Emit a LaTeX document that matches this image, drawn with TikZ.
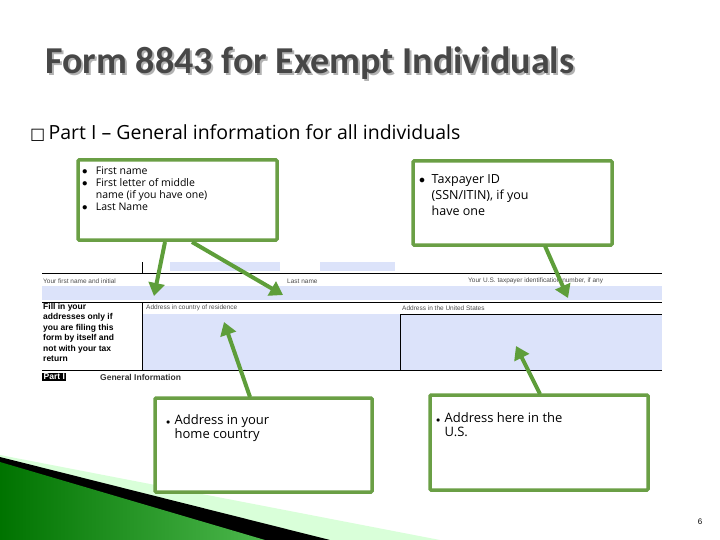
\documentclass[tikz,border=0pt]{standalone}
\usepackage{fontspec}
\setmainfont{Carlito}
\newfontfamily\sub{Open Sans}
\newfontfamily\frm{Liberation Sans}
\newfontfamily\djvfont{DejaVu Sans}
\usetikzlibrary{arrows.meta}
\definecolor{gbox}{HTML}{6A9F45}
\definecolor{garr}{HTML}{5E9E3A}
\definecolor{fblue}{HTML}{DCE3FA}
\tikzset{
  callout/.style={draw=gbox,line width=3.5pt,fill=white,rounded corners=1pt},
  arr/.style={draw=garr,line width=4pt,-{Triangle[length=13pt,width=16pt]}},
  flab/.style={font=\frm\fontsize{6.5}{7}\selectfont,text=black!70,anchor=west,inner sep=0},
  ctext/.style={font=\sub\fontsize{13}{14}\selectfont,anchor=north west,align=left,inner sep=0}
}
\begin{document}
\begin{tikzpicture}[x=1pt,y=-1pt]
\useasboundingbox (0,0) rectangle (720,540);
% decoration
\fill[green!15!white] (0,455) -- (440,540) -- (0,540) -- cycle;
\fill[black] (0,457) -- (330,540) -- (0,540) -- cycle;
\shade[left color=green!45!black,right color=green!60!black!70!white] (0,462) -- (265,540) -- (0,540) -- cycle;
% title
\node[anchor=west,font=\bfseries\fontsize{38}{40}\selectfont,text=black!30] at (44,65) (ts) {Form 8843 for Exempt Individuals};
\node[anchor=west,font=\bfseries\fontsize{38}{40}\selectfont,text=black!72] at (42,63) (title) {Form 8843 for Exempt Individuals};
\node[anchor=west,font=\sub\fontsize{19.5}{22}\selectfont,inner sep=0] at (30,133) (sub) {{\djvfont\fontsize{16}{16}\selectfont □}\,Part I – General information for all individuals};
% form
\fill[fblue] (42,286) rectangle (662,300);
\fill[fblue] (142,314) rectangle (400,370);
\fill[fblue] (401,314) rectangle (662,370);
\fill[fblue] (170,262) rectangle (280,271);
\fill[fblue] (320,262) rectangle (395,271);
\draw[line width=0.8pt] (42,273) -- (662,273);
\draw[line width=0.8pt] (42,302) -- (662,302);
\draw[line width=0.8pt] (42,370) -- (662,370);
\draw[line width=0.5pt] (142,302) -- (142,370);
\draw[line width=0.5pt] (400,314) -- (662,314) (400,314) -- (400,370);
\draw[line width=0.5pt] (142,262) -- (142,273);
\node[flab] at (43,281) (l1) {Your first name and initial};
\node[flab] at (287,281) (l2) {Last name};
\node[flab] at (468,281) (l3) {Your U.S. taxpayer identification number, if any};
\node[flab] at (146,308) (l4) {Address in country of residence};
\node[flab] at (402,308) (l5) {Address in the United States};
\node[anchor=north west,font=\frm\bfseries\fontsize{8.5}{10.5}\selectfont,align=left,inner sep=0] at (43,303) (fill) {Fill in your\\addresses only if\\you are filing this\\form by itself and\\not with your tax\\return};
\node[fill=black,text=white,font=\frm\bfseries\fontsize{8.5}{9}\selectfont,inner sep=1.5pt,anchor=west] at (42,377) (p1) {Part I};
\node[anchor=west,font=\frm\bfseries\fontsize{8.5}{9}\selectfont,inner sep=0,text=black!80] at (100,377) (gi) {General Information};
% callouts
\draw[callout] (78,160) rectangle (277,240);
\coordinate (b1a) at (165,242); \coordinate (b1b) at (192,242);
\node[anchor=north west,font=\sub\fontsize{10.5}{12}\selectfont,align=left,inner sep=0] at (82,167) (t1) {$\bullet$\ \ \ First name\\$\bullet$\ \ \ First letter of middle\\\phantom{$\bullet$\ \ \ }name (if you have one)\\$\bullet$\ \ \ Last Name};
\draw[callout] (413,161) rectangle (612,245);
\node[ctext,font=\sub\fontsize{12.5}{16}\selectfont] at (419,174) (t2) {$\bullet$\ \ Taxpayer ID\\\phantom{$\bullet$\ \ }(SSN/ITIN), if you\\\phantom{$\bullet$\ \ }have one};
\draw[callout] (155,398) rectangle (372,492);
\node[ctext] at (166,414) (t3) {\fontsize{8}{8}\selectfont$\bullet$\ \ \fontsize{13}{14}\selectfont Address in your\\\phantom{\fontsize{8}{8}\selectfont$\bullet$\ \ }home country};
\draw[callout] (430,395) rectangle (648,490);
\node[ctext] at (436,412) (t4) {\fontsize{8}{8}\selectfont$\bullet$\ \ \fontsize{13}{14}\selectfont Address here in the\\\phantom{\fontsize{8}{8}\selectfont$\bullet$\ \ }U.S.};
% arrows
\coordinate (e1) at (154,296); \coordinate (e2) at (283,295);
\coordinate (s2) at (545,246); \coordinate (e3) at (568,298);
\coordinate (s3) at (250,397); \coordinate (e4) at (224,322);
\coordinate (s4) at (540,394); \coordinate (e5) at (516,346);
\draw[arr] (b1a) -- (e1);
\draw[arr] (b1b) -- (e2);
\draw[arr] (s2) -- (e3);
\draw[arr] (s3) -- (e4);
\draw[arr] (s4) -- (e5);
\node[font=\frm\fontsize{8}{8}\selectfont] at (700,522) (pg) {6};
\end{tikzpicture}
\end{document}
